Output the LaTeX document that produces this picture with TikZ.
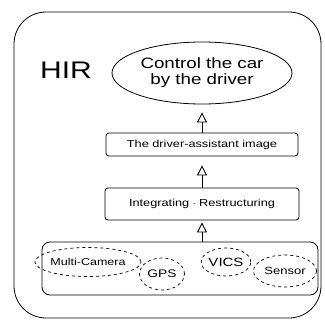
\documentclass[tikz,border=0pt]{standalone}
\usepackage{fontspec}
\setmainfont{Liberation Sans}
\newfontfamily\figfont[FakeStretch=1.25]{Liberation Sans}
\usetikzlibrary{shapes.geometric, arrows.meta, positioning}
\newcommand{\FsHIR}{\fontsize{24}{24}\selectfont\figfont}
\newcommand{\FsCtrl}{\fontsize{15}{16}\selectfont\figfont}
\newcommand{\FsBox}{\fontsize{10.2}{10.2}\selectfont\figfont}
\newcommand{\FsSrc}[1]{\fontsize{#1}{#1}\selectfont\figfont}

\begin{document}
\begin{tikzpicture}[x=1pt,y=-1pt,>={Triangle[open,length=10pt,width=10pt]},
  box/.style={draw, rounded corners=3pt, line width=0.8pt, inner sep=0pt, font=\FsBox},
  src/.style={draw, dashed, ellipse, inner sep=0pt, line width=0.7pt},
  flow/.style={->, line width=0.9pt}]
  \useasboundingbox (0,0) rectangle (325,322);
  % outer frame
  \node[draw, rounded corners=32pt, line width=0.8pt, minimum width=307pt, minimum height=306pt] (Frame) at (167.5,165) {};
  \node[font=\FsHIR] (HIR) at (66,70) {HIR};
  \node[draw, ellipse, line width=0.8pt, inner sep=0pt, align=center, font=\FsCtrl,
        minimum width=180pt, minimum height=62pt] (Ctrl) at (202,73) {Control the car\\by the driver};
  \node[box, minimum width=192pt, minimum height=23pt] (Img)   at (202,144.5) {The driver-assistant image};
  \node[box, minimum width=194pt, minimum height=32pt] (Integ) at (202,204)   {Integrating $\cdot$ Restructuring};
  \node[box, rounded corners=8pt, minimum width=276pt, minimum height=53pt] (Src) at (180,268.5) {};
  % sources
  \node[src, font=\FsSrc{10},   minimum width=86pt, minimum height=29pt] (Cam)    at (88,262)  {Multi-Camera};
  \node[src, font=\FsSrc{11},   minimum width=45pt, minimum height=32pt] (GPS)    at (162,274) {GPS};
  \node[src, font=\FsSrc{12},   minimum width=47pt, minimum height=28pt] (VICS)   at (226,262) {VICS};
  \node[src, font=\FsSrc{10.4}, minimum width=63pt, minimum height=32pt] (Sensor) at (285,271) {Sensor};
  % flow
  \draw[flow, shorten >=8pt] (Img) -- (Ctrl);
  \draw[flow, shorten >=9pt] (Integ) -- (Img);
  \draw[flow, shorten >=2pt] (Src.north -| Integ.south) -- (Integ.south);
\end{tikzpicture}
\end{document}
